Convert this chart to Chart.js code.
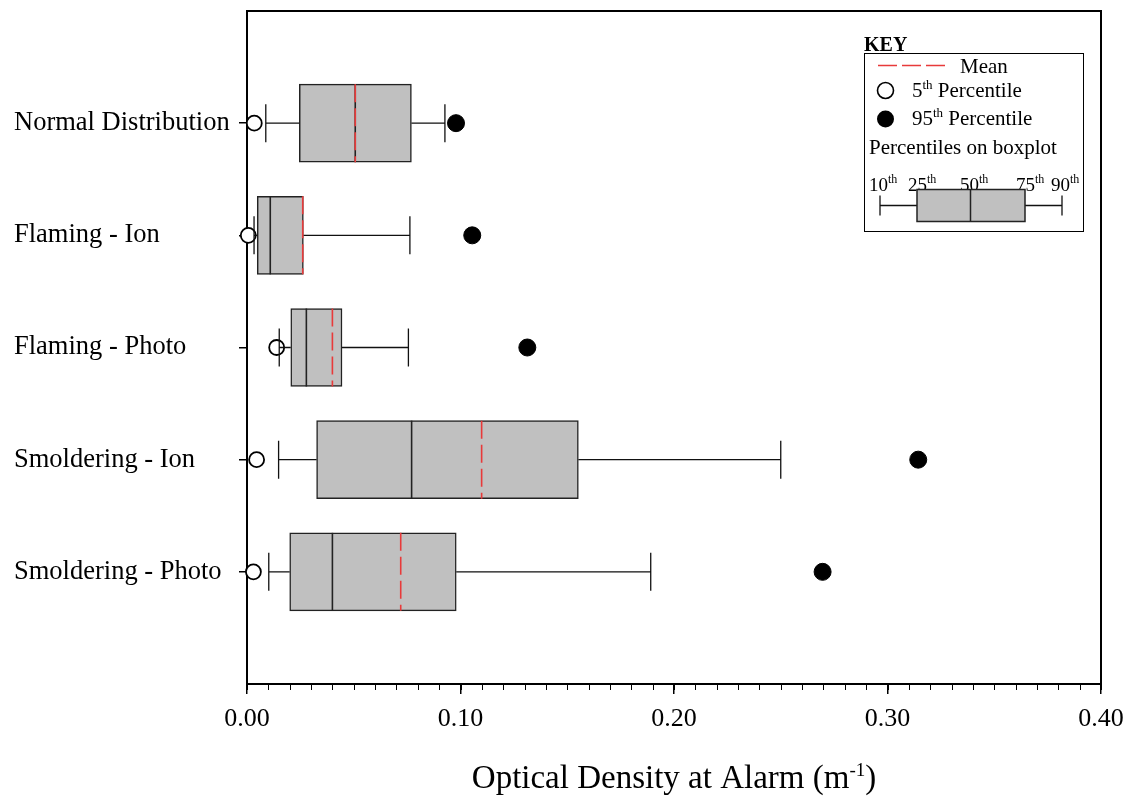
<!DOCTYPE html>
<html>
<head>
<meta charset="utf-8">
<script src="https://cdn.jsdelivr.net/npm/chart.js@4.4.1/dist/chart.umd.min.js"></script>
<style>
  body { margin: 0; background: #fff; }
  #wrap { width: 1132px; height: 798px; position: relative; }
</style>
</head>
<body>
<div id="wrap"><canvas id="myChart"></canvas></div>
<script>
// Categorias (de arriba a abajo)
const categories = ['Normal Distribution', 'Flaming - Ion', 'Flaming - Photo', 'Smoldering - Ion', 'Smoldering - Photo'];

// Percentiles (m-1)
const p5  = [0.0034, 0.0006, 0.0139, 0.0045, 0.0030];
const p10 = [0.0088, 0.0033, 0.0151, 0.0148, 0.0102];
const p25 = [0.0245, 0.0048, 0.0205, 0.0326, 0.0200];
const p50 = [0.0507, 0.0109, 0.0278, 0.0771, 0.0400];
const p75 = [0.0770, 0.0264, 0.0445, 0.1552, 0.0980];
const p90 = [0.0927, 0.0763, 0.0756, 0.2500, 0.1891];
const p95 = [0.0979, 0.1055, 0.1313, 0.3144, 0.2696];
const means = [0.0507, 0.0261, 0.0400, 0.1099, 0.0720];

// Ticks del eje x
const xTicks = [0, 0.1, 0.2, 0.3, 0.4];
const minorStep = 0.01;

const serif = 'Liberation Serif, Times New Roman, serif';
const red = 'rgb(232, 58, 58)';

// Escribe texto con superindices: parts = [[texto, esSup], ...]
function supText(ctx, parts, x, y, size, supSize, rise, align) {
	let total = 0;
	parts.forEach(p => {
		ctx.font = (p[1] ? supSize : size) + 'px ' + serif;
		total += ctx.measureText(p[0]).width;
	});
	let cx = align == 'center' ? x - total / 2 : x;
	ctx.textAlign = 'left';
	ctx.textBaseline = 'alphabetic';
	parts.forEach(p => {
		ctx.font = (p[1] ? supSize : size) + 'px ' + serif;
		ctx.fillText(p[0], cx, p[1] ? y - rise : y);
		cx += ctx.measureText(p[0]).width;
	});
}

const boxExtras = {
	id: 'boxExtras',
	beforeDatasetsDraw(chart) {
		const ctx = chart.ctx;
		const a = chart.chartArea;
		const xs = chart.scales.x;
		ctx.save();
		// ticks menores
		ctx.strokeStyle = '#000';
		ctx.lineWidth = 1;
		for (let v = 0; v <= xs.max + 1e-9; v += minorStep) {
			const px = Math.round(xs.getPixelForValue(v)) + 0.5;
			ctx.beginPath();
			ctx.moveTo(px, a.bottom);
			ctx.lineTo(px, a.bottom + 6);
			ctx.stroke();
		}
		// marco
		ctx.lineWidth = 2;
		ctx.strokeRect(a.left, a.top, a.right - a.left, a.bottom - a.top);
		ctx.restore();
	},
	afterDatasetsDraw(chart) {
		const ctx = chart.ctx;
		const a = chart.chartArea;
		const xs = chart.scales.x;
		const ys = chart.scales.y;
		const half = 39; // mitad de la caja
		const cap = 19;
		ctx.save();
		categories.forEach((c, i) => {
			const py = ys.getPixelForValue(i + 1);
			const x10 = xs.getPixelForValue(p10[i]);
			const x25 = xs.getPixelForValue(p25[i]);
			const x50 = xs.getPixelForValue(p50[i]);
			const x75 = xs.getPixelForValue(p75[i]);
			const x90 = xs.getPixelForValue(p90[i]);
			const xm = xs.getPixelForValue(means[i]);
			// bigotes
			ctx.strokeStyle = '#111';
			ctx.lineWidth = 1.3;
			ctx.setLineDash([]);
			ctx.beginPath();
			ctx.moveTo(x10, py); ctx.lineTo(x25, py);
			ctx.moveTo(x75, py); ctx.lineTo(x90, py);
			ctx.moveTo(x10, py - cap); ctx.lineTo(x10, py + cap);
			ctx.moveTo(x90, py - cap); ctx.lineTo(x90, py + cap);
			ctx.stroke();
			// mediana
			ctx.strokeStyle = '#222';
			ctx.lineWidth = 1.6;
			ctx.beginPath();
			ctx.moveTo(x50, py - half); ctx.lineTo(x50, py + half);
			ctx.stroke();
			// media
			ctx.strokeStyle = red;
			ctx.lineWidth = 1.6;
			ctx.setLineDash([18, 6]);
			ctx.beginPath();
			ctx.moveTo(xm, py - half); ctx.lineTo(xm, py + half);
			ctx.stroke();
			ctx.setLineDash([]);
		});

		// KEY
		const kx = a.right - 237;
		const ky = a.top + 42;
		ctx.fillStyle = '#000';
		ctx.font = 'bold 20px ' + serif;
		ctx.textAlign = 'left';
		ctx.textBaseline = 'alphabetic';
		ctx.fillText('KEY', kx, ky - 2);
		ctx.strokeStyle = '#000';
		ctx.lineWidth = 1;
		ctx.strokeRect(kx + 0.5, ky + 0.5, 219, 178);

		ctx.strokeStyle = red;
		ctx.lineWidth = 1.6;
		ctx.setLineDash([19, 5]);
		ctx.beginPath();
		ctx.moveTo(kx + 14, ky + 12.5); ctx.lineTo(kx + 81, ky + 12.5);
		ctx.stroke();
		ctx.setLineDash([]);
		ctx.fillStyle = '#000';
		supText(ctx, [['Mean', false]], kx + 96, ky + 20, 21, 13, 8);

		ctx.beginPath();
		ctx.arc(kx + 21.5, ky + 37.5, 8, 0, Math.PI * 2);
		ctx.fillStyle = '#fff'; ctx.fill();
		ctx.strokeStyle = '#000'; ctx.lineWidth = 1.6; ctx.stroke();
		ctx.fillStyle = '#000';
		supText(ctx, [['5', false], ['th', true], [' Percentile', false]], kx + 48, ky + 44, 21, 13, 8);

		ctx.beginPath();
		ctx.arc(kx + 21.5, ky + 66, 8.5, 0, Math.PI * 2);
		ctx.fill();
		supText(ctx, [['95', false], ['th', true], [' Percentile', false]], kx + 48, ky + 72, 21, 13, 8);

		supText(ctx, [['Percentiles on boxplot', false]], kx + 5, ky + 101, 21, 13, 8);

		const lab = [['10', 5], ['25', 44], ['50', 96], ['75', 152], ['90', 187]];
		lab.forEach(l => supText(ctx, [[l[0], false], ['th', true]], kx + l[1], ky + 138, 19, 12, 8));

		// mini boxplot
		const my = ky + 152.5;
		ctx.strokeStyle = '#111';
		ctx.lineWidth = 1.3;
		ctx.beginPath();
		ctx.moveTo(kx + 16, my); ctx.lineTo(kx + 53, my);
		ctx.moveTo(kx + 161, my); ctx.lineTo(kx + 198, my);
		ctx.moveTo(kx + 16, my - 10); ctx.lineTo(kx + 16, my + 10);
		ctx.moveTo(kx + 198, my - 10); ctx.lineTo(kx + 198, my + 10);
		ctx.stroke();
		ctx.fillStyle = '#c0c0c0';
		ctx.fillRect(kx + 53, my - 16, 108, 32);
		ctx.strokeStyle = '#222';
		ctx.lineWidth = 1.5;
		ctx.strokeRect(kx + 53, my - 16, 108, 32);
		ctx.beginPath();
		ctx.moveTo(kx + 106.5, my - 16); ctx.lineTo(kx + 106.5, my + 16);
		ctx.stroke();

		// titulo del eje x
		ctx.fillStyle = '#000';
		supText(ctx, [['Optical Density at Alarm (m', false], ['-1', true], [')', false]],
			(a.left + a.right) / 2, chart.height - 10, 33, 19, 12, 'center');
		ctx.restore();
	}
};

const config = {
	type: 'bar',
	data: {
		datasets: [
			{
				type: 'scatter',
				label: '5th Percentile',
				data: categories.map((c, i) => ({ x: p5[i], y: i + 1 })),
				pointStyle: 'circle',
				pointRadius: 7.5,
				pointBorderWidth: 1.8,
				pointBackgroundColor: '#fff',
				pointBorderColor: '#000',
				clip: false,
				order: 1
			},
			{
				type: 'scatter',
				label: '95th Percentile',
				data: categories.map((c, i) => ({ x: p95[i], y: i + 1 })),
				pointStyle: 'circle',
				pointRadius: 8.5,
				pointBorderWidth: 1,
				pointBackgroundColor: '#000',
				pointBorderColor: '#000',
				clip: false,
				order: 1
			},
			{
				type: 'bar',
				label: 'Box',
				data: categories.map((c, i) => ({ x: [p25[i], p75[i]], y: i + 1 })),
				backgroundColor: '#c0c0c0',
				borderColor: '#222',
				borderWidth: 1.5,
				borderSkipped: false,
				barThickness: 78,
				order: 2
			}
		]
	},
	options: {
		indexAxis: 'y',
		responsive: true,
		maintainAspectRatio: false,
		animation: false,
		layout: { padding: { left: 14, top: 11, right: 31, bottom: 0 } },
		plugins: { legend: { display: false }, tooltip: { enabled: false }, title: { display: false } },
		scales: {
			x: {
				type: 'linear',
				position: 'bottom',
				min: 0,
				max: 0.4,
				afterBuildTicks: s => { s.ticks = xTicks.map(v => ({ value: v })); },
				afterFit: s => { s.height = 114; s.paddingLeft = 0; s.paddingRight = 0; },
				ticks: {
					callback: v => Number(v).toFixed(2),
					color: '#000',
					font: { family: serif, size: 26 },
					padding: 10,
					maxRotation: 0,
					autoSkip: false
				},
				grid: { drawOnChartArea: false, tickLength: 10, color: '#000', lineWidth: 1.5 },
				border: { display: false }
			},
			y: {
				type: 'linear',
				position: 'left',
				min: 0,
				max: 6,
				reverse: true,
				offset: false,
				afterBuildTicks: s => { s.ticks = categories.map((c, i) => ({ value: i + 1 })); },
				afterFit: s => { s.width = 233; s.paddingTop = 0; s.paddingBottom = 0; },
				ticks: {
					callback: v => categories[v - 1] || '',
					crossAlign: 'far',
					color: '#000',
					font: { family: serif, size: 26.5 },
					autoSkip: false
				},
				grid: { drawOnChartArea: false, offset: false, tickLength: 8, color: '#000', lineWidth: 1.5 },
				border: { display: false }
			}
		}
	},
	plugins: [boxExtras]
};

const myChart = new Chart(document.getElementById('myChart'), config);
</script>
</body>
</html>
